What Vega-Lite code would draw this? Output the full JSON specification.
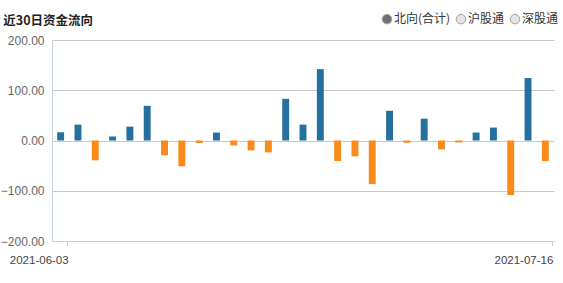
{
  "$schema": "https://vega.github.io/schema/vega-lite/v6.json",
  "width": 502,
  "height": 201,
  "autosize": {"type": "none"},
  "padding": {"left": 52, "top": 40, "right": 9, "bottom": 42},
  "background": "white",
  "config": {"view": {"stroke": null}},
  "title": {
    "text": "近30日资金流向",
    "anchor": "start",
    "frame": "bounds",
    "font": "Noto Sans CJK SC",
    "fontSize": 12.5,
    "fontWeight": "bold",
    "color": "#222222",
    "offset": 10,
    "dx": 3,
    "dy": 24
  },
  "datasets": {
    "flow": [
      {"date": "2021-06-03", "value": 16.4},
      {"date": "2021-06-04", "value": 31.6},
      {"date": "2021-06-07", "value": -39.5},
      {"date": "2021-06-08", "value": 7.9},
      {"date": "2021-06-09", "value": 27.6},
      {"date": "2021-06-10", "value": 69.0},
      {"date": "2021-06-11", "value": -29.6},
      {"date": "2021-06-15", "value": -51.3},
      {"date": "2021-06-16", "value": -5.0},
      {"date": "2021-06-17", "value": 15.8},
      {"date": "2021-06-18", "value": -9.9},
      {"date": "2021-06-21", "value": -19.7},
      {"date": "2021-06-22", "value": -23.7},
      {"date": "2021-06-23", "value": 82.9},
      {"date": "2021-06-24", "value": 31.6},
      {"date": "2021-06-25", "value": 142.0},
      {"date": "2021-06-28", "value": -40.8},
      {"date": "2021-06-29", "value": -31.6},
      {"date": "2021-06-30", "value": -86.8},
      {"date": "2021-07-05", "value": 59.2},
      {"date": "2021-07-06", "value": -4.5},
      {"date": "2021-07-07", "value": 43.4},
      {"date": "2021-07-08", "value": -17.8},
      {"date": "2021-07-09", "value": -4.0},
      {"date": "2021-07-12", "value": 15.8},
      {"date": "2021-07-13", "value": 25.7},
      {"date": "2021-07-14", "value": -108.5},
      {"date": "2021-07-15", "value": 124.3},
      {"date": "2021-07-16", "value": -40.8}
    ],
    "opts": [
      {"opt": "北向(合计)"},
      {"opt": "沪股通"},
      {"opt": "深股通"}
    ]
  },
  "layer": [
    {
      "data": {"name": "flow"},
      "mark": {"type": "bar"},
      "encoding": {
        "x": {
          "field": "date",
          "type": "ordinal",
          "sort": null,
          "scale": {"paddingInner": 0.6, "paddingOuter": 0.3},
          "axis": {
            "title": null,
            "values": ["2021-06-03", "2021-07-16"],
            "bandPosition": 1.55,
            "labelAngle": 0,
            "labelAlign": "right",
            "labelBaseline": "top",
            "labelBound": false,
            "labelOverlap": false,
            "labelFont": "Liberation Sans",
            "labelFontSize": 11.5,
            "labelColor": "#444444",
            "labelPadding": 8,
            "labelOffset": 8,
            "tickSize": 5,
            "tickColor": "#c3d2de",
            "domainColor": "#c3d2de",
            "grid": false,
            "zindex": 1
          }
        },
        "y": {
          "field": "value",
          "type": "quantitative",
          "scale": {"domain": [-200, 200], "nice": false},
          "axis": {
            "title": null,
            "values": [-200, -100, 0, 100, 200],
            "format": ".2f",
            "labelFont": "Liberation Sans",
            "labelFontSize": 12,
            "labelColor": "#666666",
            "labelPadding": 8,
            "ticks": false,
            "domainColor": "#c3d2de",
            "gridColor": "#c8c8c8",
            "grid": true
          }
        },
        "color": {
          "condition": {"test": "datum.value >= 0", "value": "#24709e"},
          "value": "#f98b1b"
        }
      }
    },
    {
      "data": {"name": "opts"},
      "mark": {"type": "point", "filled": true, "opacity": 0},
      "encoding": {
        "fill": {
          "field": "opt",
          "type": "nominal",
          "sort": null,
          "scale": {"domain": ["北向(合计)", "沪股通", "深股通"], "range": ["#707070", "#e4e4e4", "#e4e4e4"]},
          "legend": {
            "title": null,
            "orient": "none",
            "legendX": 329,
            "legendY": -27,
            "direction": "horizontal",
            "symbolType": "circle",
            "symbolSize": 90,
            "symbolOpacity": 1,
            "symbolStrokeColor": "#a0a0a0",
            "symbolStrokeWidth": 1,
            "labelFont": "Noto Sans CJK SC",
            "labelFontSize": 12,
            "labelColor": "#333333",
            "labelOffset": 1,
            "columnPadding": 3
          }
        }
      }
    }
  ]
}
